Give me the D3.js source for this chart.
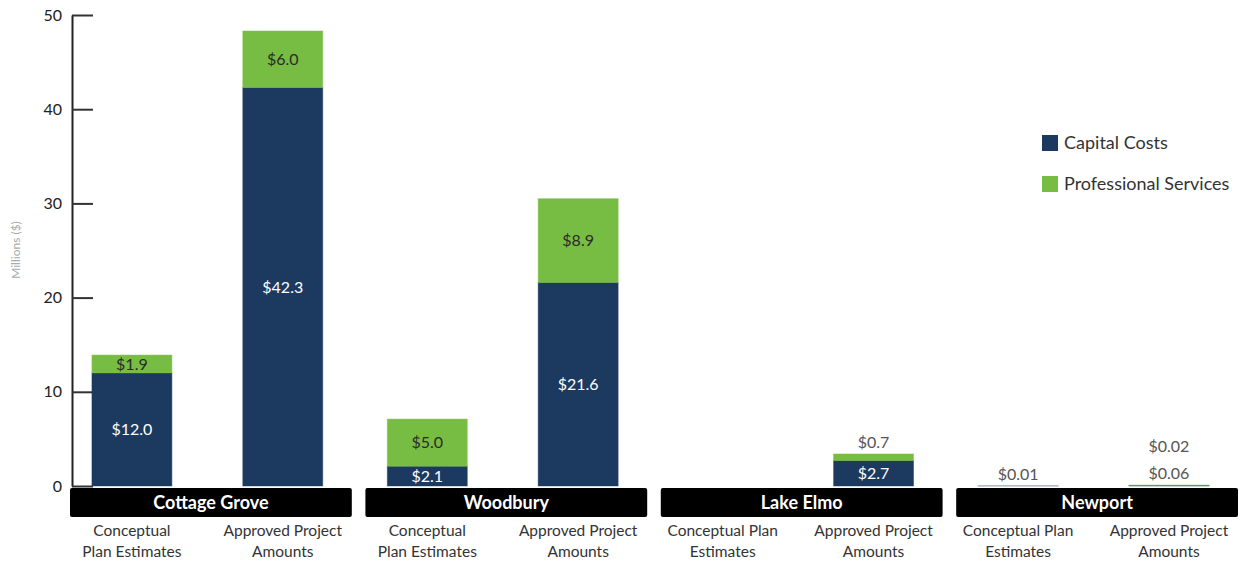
<!DOCTYPE html>
<html>
<head>
<meta charset="utf-8">
<script src="https://cdn.jsdelivr.net/npm/d3@7"></script>
<style>
  body { margin: 0; background: #fff; }
  svg { font-family: Lato, "Open Sans", sans-serif; }
</style>
</head>
<body>
<div id="chart"></div>
<script>
// cities and the two bars inside each
const cities = ['Cottage Grove', 'Woodbury', 'Lake Elmo', 'Newport'];
const stages = ['Conceptual Plan Estimates', 'Approved Project Amounts'];
const stageLines = [
  [['Conceptual', 'Plan Estimates'], ['Approved Project', 'Amounts']],
  [['Conceptual', 'Plan Estimates'], ['Approved Project', 'Amounts']],
  [['Conceptual Plan', 'Estimates'], ['Approved Project', 'Amounts']],
  [['Conceptual Plan', 'Estimates'], ['Approved Project', 'Amounts']]
];
const seriesNames = ['Capital Costs', 'Professional Services'];
// millions of dollars, [conceptual, approved] per city
const capitalCosts = [[12.0, 42.3], [2.1, 21.6], [0, 2.7], [0.01, 0.06]];
const professionalServices = [[1.9, 6.0], [5.0, 8.9], [0, 0.7], [0, 0.02]];
const yTicks = [0, 10, 20, 30, 40, 50];

const colors = ['#1c3a60', '#78bd43'];
const width = 1243;
const height = 563;

const svg = d3.select('#chart').append('svg')
  .attr('width', width)
  .attr('height', height);

const y = d3.scaleLinear().domain([0, 50]).range([486, 15]);

const xGroup = d3.scaleBand()
  .domain(cities)
  .range([70, 1238])
  .paddingInner(0.046)
  .paddingOuter(0);

const xInner = d3.scaleBand()
  .domain(stages)
  .range([0, xGroup.bandwidth()])
  .paddingInner(0.47)
  .paddingOuter(0.169)
  .align(0.43);

// build rows
const rows = [];
cities.forEach((c, ci) => {
  stages.forEach((s, si) => {
    const vals = [capitalCosts[ci][si], professionalServices[ci][si]];
    let base = 0;
    const segs = vals.map((v, k) => {
      const seg = { city: c, stage: s, k, v, y0: base, y1: base + v };
      base += v;
      return seg;
    });
    rows.push({ city: c, ci, stage: s, si, segs, total: base });
  });
});

// y axis
const yAxis = svg.append('g')
  .attr('transform', 'translate(72,0)')
  .call(d3.axisLeft(y).tickValues(yTicks).tickSize(-21).tickSizeOuter(0).tickPadding(10));
yAxis.select('.domain').attr('stroke', '#222').attr('stroke-width', 2);
yAxis.selectAll('.tick line').attr('stroke', '#333').attr('stroke-width', 2);
yAxis.selectAll('.tick text')
  .attr('font-size', 16)
  .attr('fill', '#222')
  .attr('font-family', 'Lato, sans-serif');

svg.append('text')
  .attr('transform', 'translate(20,250) rotate(-90)')
  .attr('text-anchor', 'middle')
  .attr('font-size', 12)
  .attr('fill', '#aaa')
  .text('Millions ($)');

// bars
const barG = svg.append('g');
rows.forEach((r) => {
  const x0 = xGroup(r.city) + xInner(r.stage);
  const bw = xInner.bandwidth();
  r.segs.forEach((s) => {
    if (s.v <= 0) return;
    barG.append('rect')
      .attr('x', x0)
      .attr('width', bw)
      .attr('y', y(s.y1))
      .attr('height', y(s.y0) - y(s.y1))
      .attr('fill', colors[s.k])
      .attr('stroke', colors[s.k])
      .attr('stroke-opacity', 0.45)
      .attr('stroke-width', 1);
  });

  // labels
  let stackOut = 0;
  r.segs.forEach((s) => {
    if (s.v <= 0) return;
    const txt = '$' + (s.v < 0.1 ? s.v.toFixed(2) : s.v.toFixed(1));
    const h = y(s.y0) - y(s.y1);
    const lbl = barG.append('text')
      .attr('x', x0 + bw / 2)
      .attr('text-anchor', 'middle')
      .attr('font-size', 16)
      .text(txt);
    if (h >= 14) {
      lbl.attr('y', (y(s.y0) + y(s.y1)) / 2)
        .attr('dy', '0.36em')
        .attr('fill', s.k === 0 ? '#fff' : '#2a2a2a');
    } else {
      lbl.attr('y', y(r.total) - 6 - stackOut * 27)
        .attr('fill', '#555');
      stackOut += 1;
    }
  });
});

// city bands
const cityG = svg.append('g');
cities.forEach((c) => {
  cityG.append('rect')
    .attr('x', xGroup(c))
    .attr('y', 488)
    .attr('width', xGroup.bandwidth())
    .attr('height', 29)
    .attr('rx', 2)
    .attr('fill', '#000');
  cityG.append('text')
    .attr('x', xGroup(c) + xGroup.bandwidth() / 2)
    .attr('y', 502.5)
    .attr('dy', '0.36em')
    .attr('text-anchor', 'middle')
    .attr('font-size', 18)
    .attr('font-weight', 'bold')
    .attr('fill', '#fff')
    .text(c);
});

// stage labels
rows.forEach((r) => {
  const cx = xGroup(r.city) + xInner(r.stage) + xInner.bandwidth() / 2;
  const lines = stageLines[r.ci][r.si];
  const t = svg.append('text')
    .attr('text-anchor', 'middle')
    .attr('font-size', 15.5)
    .attr('fill', '#333');
  lines.forEach((ln, i) => {
    t.append('tspan').attr('x', cx).attr('y', 536 + i * 20.5).text(ln);
  });
});

// legend
const legend = svg.append('g').attr('transform', 'translate(1042,135)');
seriesNames.forEach((n, i) => {
  legend.append('rect')
    .attr('x', 0)
    .attr('y', i * 41)
    .attr('width', 16)
    .attr('height', 16)
    .attr('fill', colors[i]);
  legend.append('text')
    .attr('x', 22)
    .attr('y', i * 41 + 8)
    .attr('dy', '0.36em')
    .attr('font-size', 18)
    .attr('fill', '#333')
    .text(n);
});
</script>
</body>
</html>
